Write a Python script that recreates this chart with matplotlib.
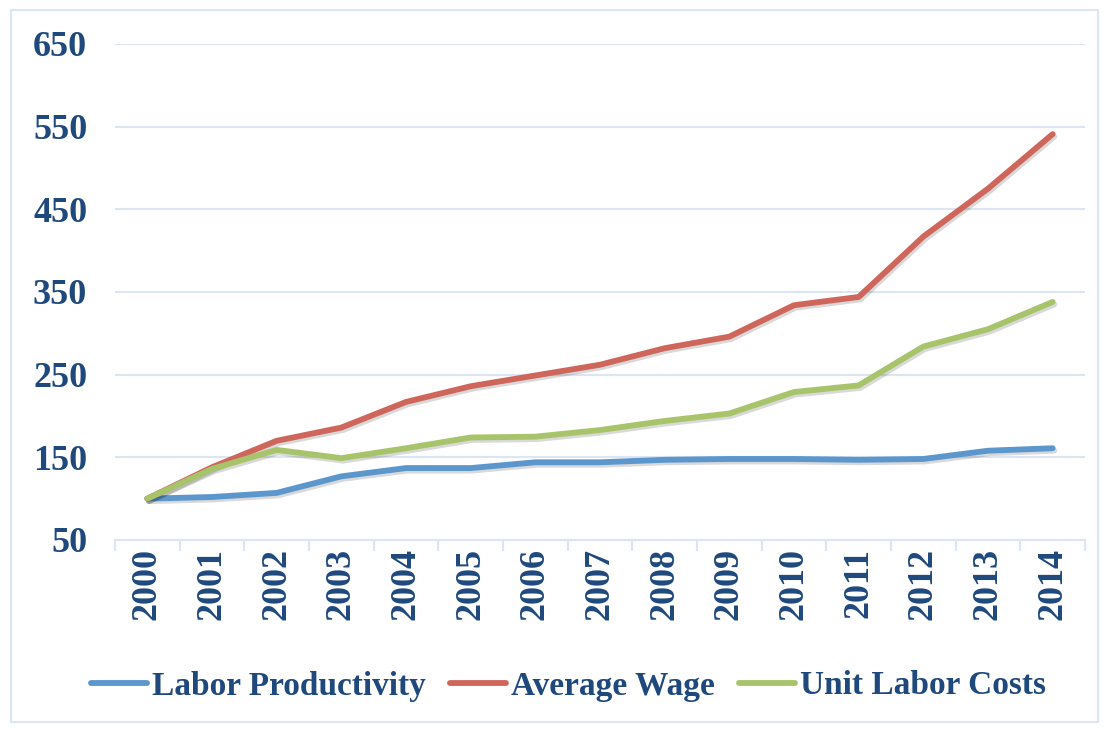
import matplotlib
matplotlib.use("Agg")
import matplotlib.pyplot as plt
import matplotlib.patheffects as pe
from matplotlib.patches import Rectangle

years = ["2000", "2001", "2002", "2003", "2004", "2005", "2006", "2007",
         "2008", "2009", "2010", "2011", "2012", "2013", "2014"]
labor_productivity = [100, 102, 107, 127, 137, 137, 144, 144, 147, 148, 148, 147, 148, 158, 161]
average_wage = [100, 138, 170, 186, 217, 236, 249, 262, 282, 296, 334, 344, 417, 475, 541]
unit_labor_costs = [100, 136, 159, 149, 161, 174, 175, 183, 194, 203, 229, 237, 284, 305, 338]
yticks = [50, 150, 250, 350, 450, 550, 650]

text_color = "#1F497D"
grid_color = "#DCE6F2"
font = "Liberation Serif"

fig = plt.figure(figsize=(11.06, 7.29), dpi=100)
fig.patches.append(Rectangle((11/1106, 1 - 722/729), (1098-11)/1106, (722-10)/729,
                             transform=fig.transFigure, fill=False,
                             edgecolor=grid_color, linewidth=1.5))
ax = fig.add_axes([115/1106, 1 - 540/729, (1085-115)/1106, (540-44)/729])

x = list(range(len(years)))
shadow = [pe.SimpleLineShadow(offset=(1.2, -1.8), alpha=0.15, shadow_color="black"), pe.Normal()]
series = [
    ("Labor Productivity", labor_productivity, "#5B96CC"),
    ("Average Wage", average_wage, "#CF665C"),
    ("Unit Labor Costs", unit_labor_costs, "#A8C46A"),
]
for name, vals, col in series:
    ax.plot(x, vals, color=col, linewidth=4.2, label=name, solid_capstyle="round",
            solid_joinstyle="round", path_effects=shadow, zorder=3)

ax.set_xlim(-0.5, len(years) - 0.5)
ax.set_ylim(50, 650)
ax.set_yticks(yticks)
ax.set_yticklabels([str(v) for v in yticks], fontfamily=font, fontweight="bold",
                   fontsize=26, color=text_color)
ax.set_xticks(x)
ax.set_xticklabels(years, rotation=90, fontfamily=font, fontweight="bold",
                   fontsize=26, color=text_color)
ax.set_xticks([i - 0.5 for i in range(len(years) + 1)], minor=True)
ax.tick_params(axis="x", which="major", length=0, pad=6)
ax.tick_params(axis="x", which="minor", length=8, color=grid_color, width=1.5)
ax.tick_params(axis="y", length=0, pad=20)
ax.grid(axis="y", color=grid_color, linewidth=1.5, zorder=0)
for s in ["top", "right", "left"]:
    ax.spines[s].set_visible(False)
ax.spines["bottom"].set_color(grid_color)
ax.spines["bottom"].set_linewidth(1.5)

leg = fig.legend(loc="center", bbox_to_anchor=(0.514, 1 - 686/729), ncol=3,
                 frameon=False, handlelength=1.7, handletextpad=0.15, columnspacing=0.7,
                 prop={"family": font, "weight": "bold", "size": 24})
for t in leg.get_texts():
    t.set_color(text_color)
for h in leg.get_lines():
    h.set_path_effects([])

fig.savefig("out.png", dpi=100)
